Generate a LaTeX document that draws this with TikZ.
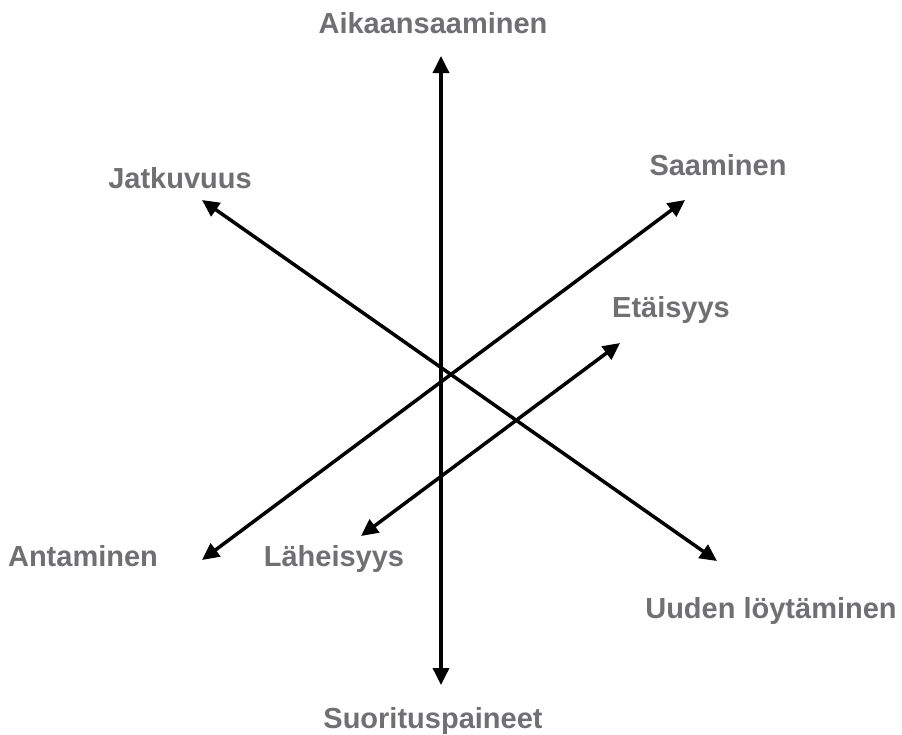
\documentclass[tikz,border=0pt]{standalone}
\usepackage{fontspec}
\setmainfont{Liberation Sans}
\usetikzlibrary{arrows.meta}
\definecolor{labelgray}{HTML}{707073}
\tikzset{
  axis/.style={line width=3.5pt, {Triangle[length=17pt,width=16pt]}-{Triangle[length=17pt,width=16pt]}},
  lbl/.style={text=labelgray, font=\fontsize{29}{34}\selectfont\bfseries, inner sep=0pt, anchor=base}
}
\begin{document}
\begin{tikzpicture}[x=1pt,y=-1pt]
\useasboundingbox (0,0) rectangle (902,734);
% arrow endpoints
\coordinate (vt) at (441,56);
\coordinate (vb) at (441,685);
\coordinate (jt) at (202,200);
\coordinate (ub) at (717,561);
\coordinate (an) at (202,560);
\coordinate (sa) at (685,200);
\coordinate (la) at (361,536);
\coordinate (et) at (620,343);
\draw[axis] (vb) -- (vt);
\draw[axis] (jt) -- (ub);
\draw[axis] (an) -- (sa);
\draw[axis] (la) -- (et);
% labels
\node[lbl] (l1) at (433,33) {Aikaansaaminen};
\node[lbl] (l2) at (180,188) {Jatkuvuus};
\node[lbl] (l3) at (718,175) {Saaminen};
\node[lbl] (l4) at (671,317) {Etäisyys};
\node[lbl] (l5) at (83,566) {Antaminen};
\node[lbl] (l6) at (334,566) {Läheisyys};
\node[lbl] (l7) at (771,618) {Uuden löytäminen};
\node[lbl] (l8) at (433,728) {Suorituspaineet};
\end{tikzpicture}
\end{document}
